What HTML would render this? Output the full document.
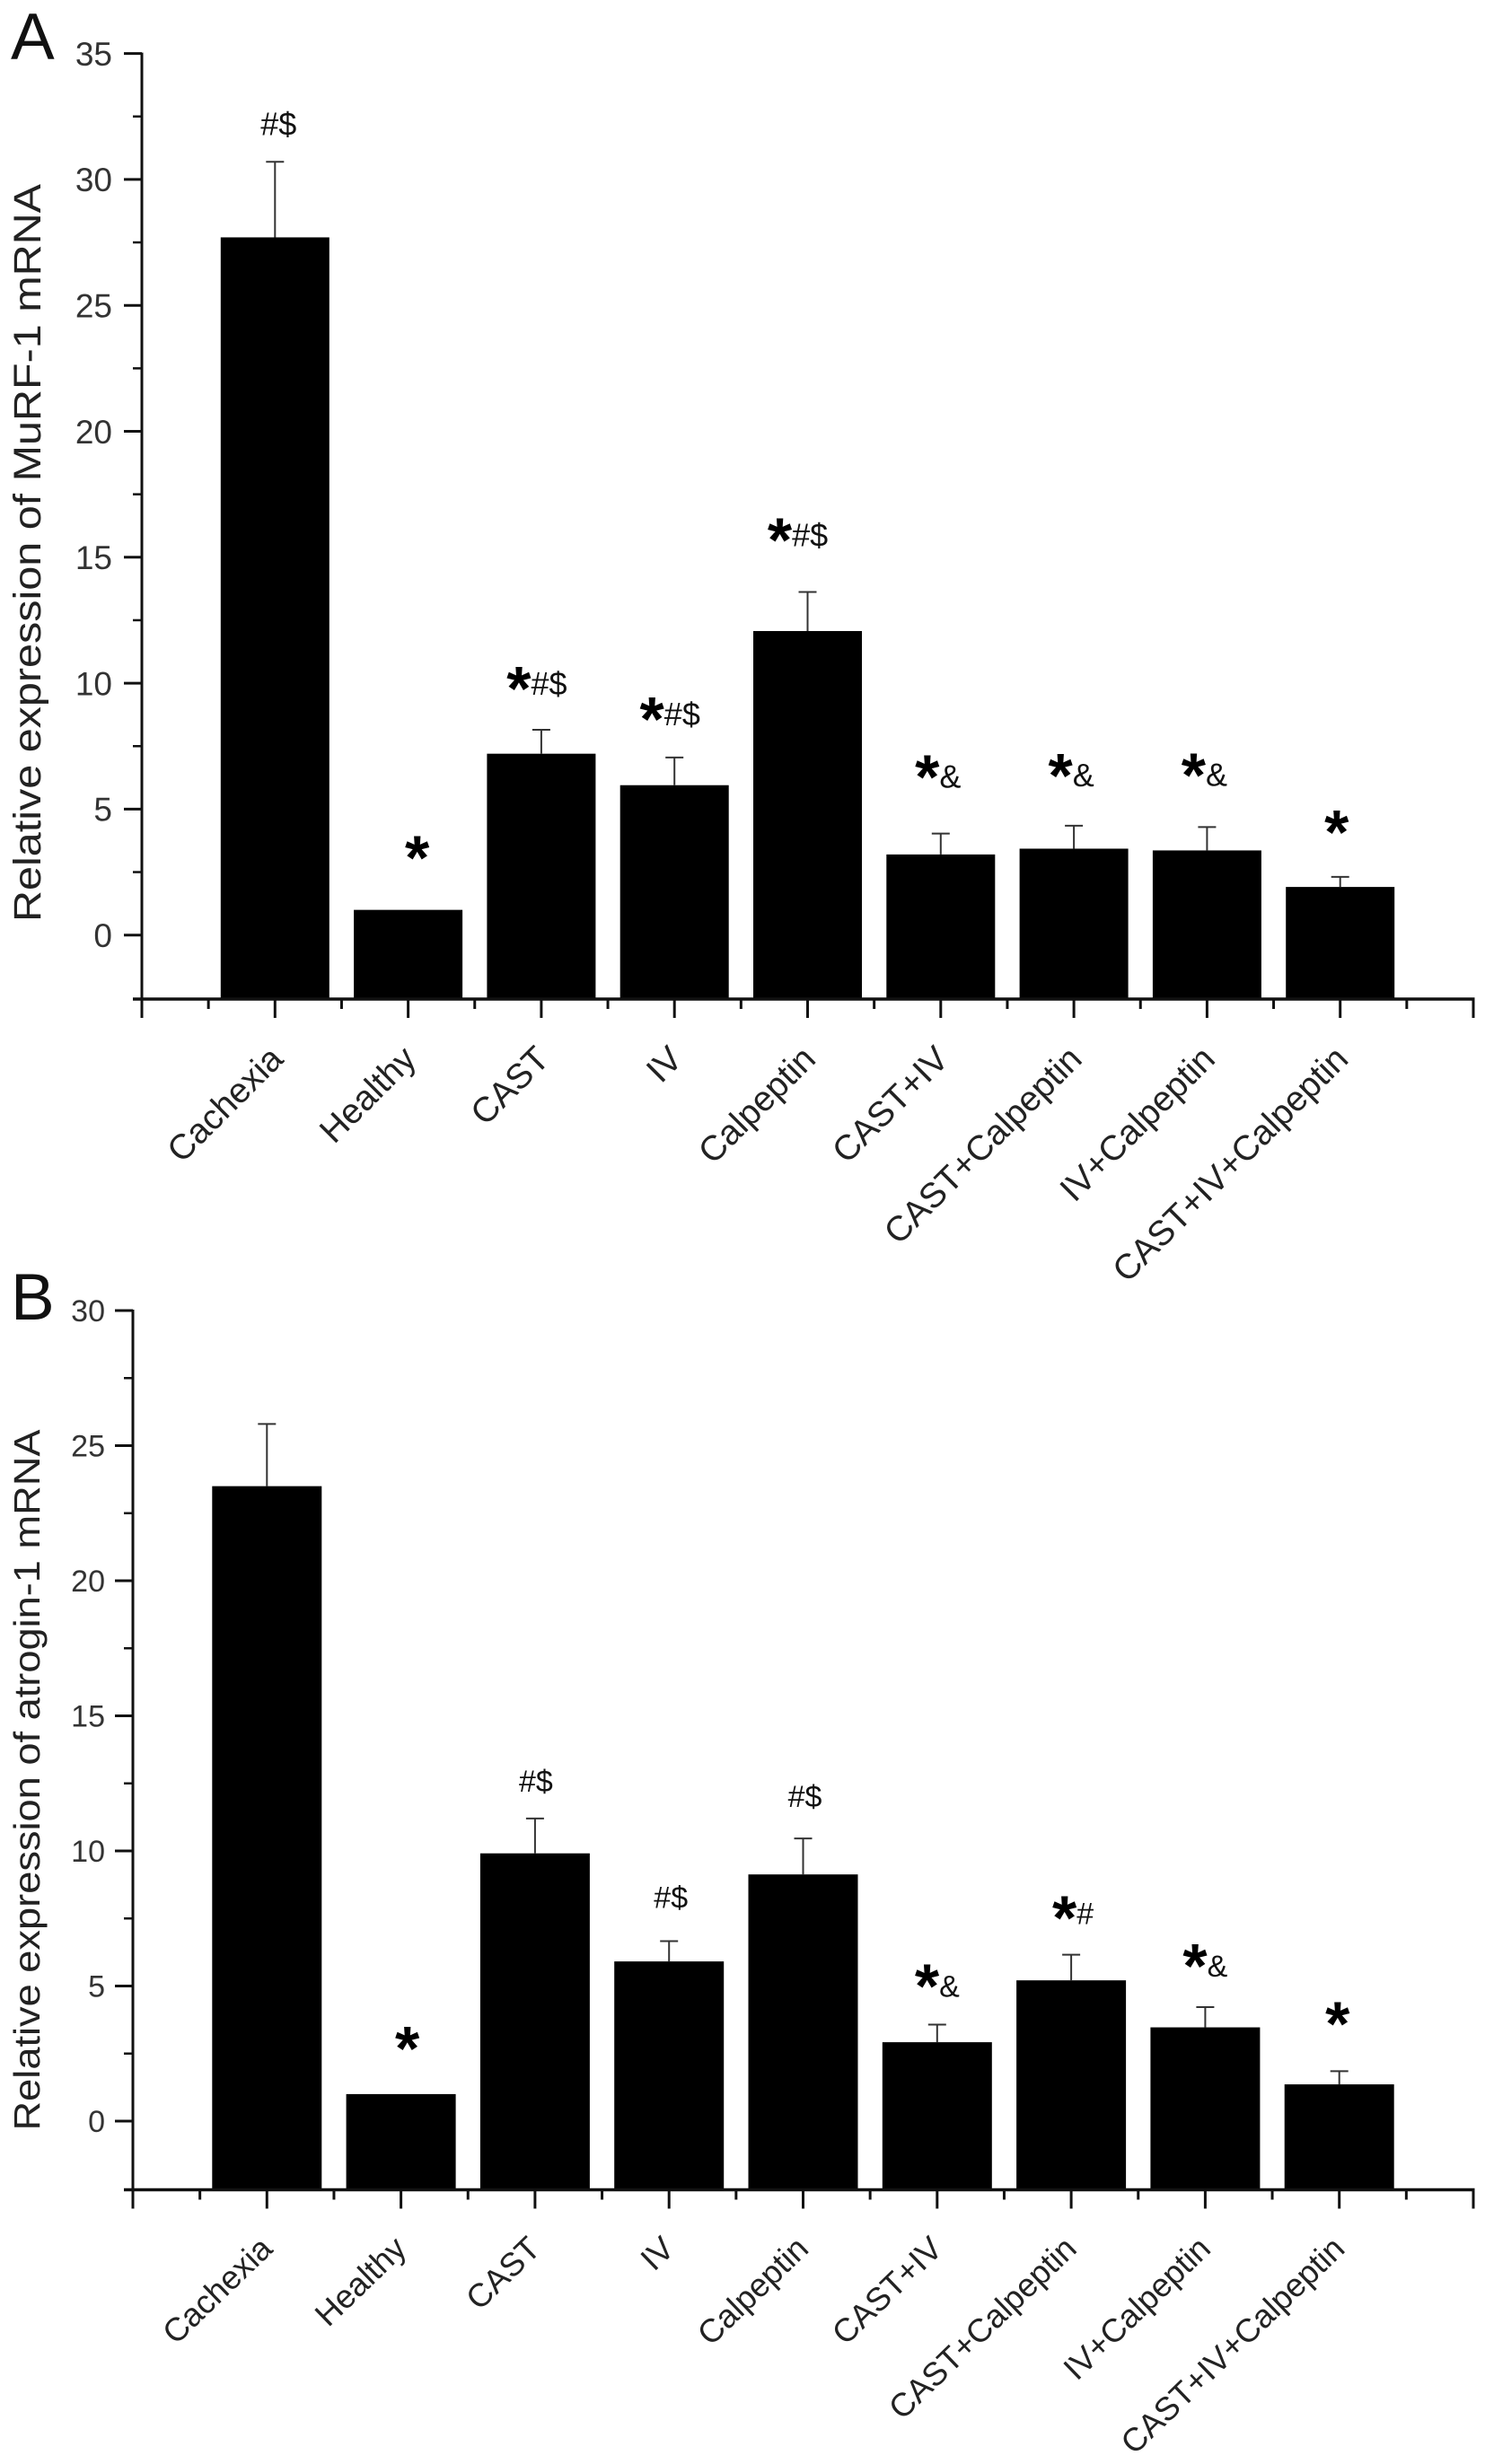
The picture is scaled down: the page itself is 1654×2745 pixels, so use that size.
<!DOCTYPE html>
<html lang="en">
<head>
<meta charset="utf-8">
<title>Relative expression of MuRF-1 and atrogin-1 mRNA</title>
<style>
  html, body { margin: 0; padding: 0; background: #fff; }
  svg { display: block; font-family: "Liberation Sans", Arial, sans-serif; }
</style>
</head>
<body>
<svg id="figure" width="1654" height="2745" viewBox="0 0 1654 2745">
  <rect width="1654" height="2745" fill="#fff"/>
  <g id="panel-a"></g>
  <g id="panel-b"></g>
</svg>
<script>
const categories = ["Cachexia", "Healthy", "CAST", "IV", "Calpeptin", "CAST+IV", "CAST+Calpeptin", "IV+Calpeptin", "CAST+IV+Calpeptin"];

const murfValues = [27.7, 1.0, 7.2, 5.95, 12.07, 3.2, 3.43, 3.36, 1.91];
const murfErrors = [3.0, 0, 0.95, 1.1, 1.55, 0.83, 0.91, 0.93, 0.4];
const murfAnnotations = ["#$", "*", "*#$", "*#$", "*#$", "*&", "*&", "*&", "*"];
const murfTicks = [0, 5, 10, 15, 20, 25, 30, 35];
const murfTitle = "Relative expression of MuRF-1 mRNA";

const atroginValues = [23.5, 1.0, 9.91, 5.91, 9.13, 2.92, 5.21, 3.47, 1.36];
const atroginErrors = [2.3, 0, 1.29, 0.75, 1.33, 0.65, 0.95, 0.75, 0.49];
const atroginAnnotations = ["", "*", "#$", "#$", "#$", "*&", "*#", "*&", "*"];
const atroginTicks = [0, 5, 10, 15, 20, 25, 30];
const atroginTitle = "Relative expression of atrogin-1 mRNA";

const svgRoot = document.getElementById("figure");

function make(parent, tag, attrs, text) {
  const el = document.createElementNS(svgRoot.namespaceURI, tag);
  for (const key in attrs) el.setAttribute(key, attrs[key]);
  if (text !== undefined) el.textContent = text;
  parent.appendChild(el);
  return el;
}

function drawPanel(group, cfg) {
  const yScale = v => cfg.zeroY - v * cfg.unitY;
  const xScale = u => cfg.axisX + u * cfg.stepX;
  const topTick = cfg.ticks[cfg.ticks.length - 1];
  const axisColor = "#111";

  const letter = make(group, "text", { x: 12, y: cfg.letterY, "font-size": 73, fill: "#111" }, cfg.letter);
  
  

  const title = make(group, "text", {
    transform: "translate(" + cfg.titleX + "," + cfg.titleCenter + ") rotate(-90)",
    "text-anchor": "middle", "font-size": cfg.titleSize, fill: "#222",
    textLength: cfg.titleLength, lengthAdjust: "spacingAndGlyphs"
  }, cfg.title);
  
  

  cfg.values.forEach((value, i) => {
    const cx = xScale(i + 1);
    const bar = make(group, "rect", {
      x: cx - cfg.barWidth / 2, y: yScale(value),
      width: cfg.barWidth, height: cfg.axisY - yScale(value), fill: "#000"
    });
    
    

    const errorTop = yScale(value + cfg.errors[i]);
    if (cfg.errors[i] > 0) {
      const stem = make(group, "line", { x1: cx, x2: cx, y1: yScale(value), y2: errorTop, stroke: "#333", "stroke-width": 2 });
      
      
      const cap = make(group, "line", { x1: cx - 10, x2: cx + 10, y1: errorTop, y2: errorTop, stroke: "#333", "stroke-width": 2 });
      
      
    }

    const note = cfg.annotations[i];
    if (note) {
      const hasStar = note[0] === "*";
      const symbols = hasStar ? note.slice(1) : note;
      const nudge = cfg.markerNudge[categories[i]] || { dx: 0, dy: 0 };
      const baseline = errorTop - (hasStar ? cfg.starGap : cfg.hashGap) + nudge.dy;
      const label = make(group, "text", {
        x: cx + (hasStar ? 3 : 4) + nudge.dx,
        y: baseline,
        "text-anchor": "middle", fill: "#111"
      });
      
      
      if (hasStar) {
        make(label, "tspan", { "font-size": 70, "font-weight": "bold", fill: "#000" }, "*");
      }
      if (symbols) {
        make(label, "tspan", hasStar
          ? { "font-size": cfg.symbolSize, dy: symbols === "&" ? -12 : -17 }
          : { "font-size": cfg.symbolSize }, symbols);
      }
    }
  });

  const yAxis = make(group, "line", { x1: cfg.axisX, x2: cfg.axisX, y1: yScale(topTick) - 1, y2: cfg.axisY, stroke: axisColor, "stroke-width": 3 });
  
  

  const xAxis = make(group, "line", { x1: cfg.axisX - 10, x2: xScale(10) + 1.5, y1: cfg.axisY, y2: cfg.axisY, stroke: axisColor, "stroke-width": 3.5 });
  
  

  cfg.ticks.forEach(t => {
    const tick = make(group, "line", { x1: cfg.axisX - 20, x2: cfg.axisX, y1: yScale(t), y2: yScale(t), stroke: axisColor, "stroke-width": 3 });
    
    
    const tickLabel = make(group, "text", { x: cfg.axisX - cfg.tickGap, y: yScale(t) + cfg.tickSize * 0.36, "text-anchor": "end", "font-size": cfg.tickSize, fill: "#333" }, String(t));
    
    
    if (t < topTick) {
      const minor = make(group, "line", { x1: cfg.axisX - 10, x2: cfg.axisX, y1: yScale(t + 2.5), y2: yScale(t + 2.5), stroke: axisColor, "stroke-width": 2.5 });
      
      
    }
  });

  for (let k = 0; k <= 10; k++) {
    const major = make(group, "line", { x1: xScale(k), x2: xScale(k), y1: cfg.axisY, y2: cfg.axisY + 21, stroke: axisColor, "stroke-width": 3 });
    
    
    if (k < 10) {
      const minorX = make(group, "line", { x1: xScale(k + 0.5), x2: xScale(k + 0.5), y1: cfg.axisY, y2: cfg.axisY + 11, stroke: axisColor, "stroke-width": 3 });
      
      
    }
  }

  categories.forEach((name, i) => {
    const px = xScale(i + 1) + cfg.labelDx;
    const py = cfg.axisY + cfg.labelDy;
    const catLabel = make(group, "text", {
      transform: "translate(" + px + "," + py + ") rotate(" + cfg.labelAngle + ")",
      "text-anchor": "end", "font-size": cfg.labelSize, fill: "#222"
    }, name);
    
    
  });
}

drawPanel(document.getElementById("panel-a"), {
  letter: "A", letterY: 66, title: murfTitle, titleX: 45, titleCenter: 616, titleLength: 822, titleSize: 43,
  values: murfValues, errors: murfErrors, annotations: murfAnnotations, ticks: murfTicks,
  zeroY: 1041.7, unitY: 28.06, axisX: 158, axisY: 1113, stepX: 148.3, barWidth: 121,
  tickSize: 37, tickGap: 33, labelSize: 39, labelAngle: -45, labelDx: 11, labelDy: 69,
  symbolSize: 36, starGap: 29, hashGap: 30,
  markerNudge: {
    "Healthy": { dx: 7, dy: -5 },
    "CAST": { dx: -8, dy: 7 },
    "IV": { dx: -8, dy: 10 },
    "Calpeptin": { dx: -14, dy: -5 },
    "CAST+IV": { dx: -6, dy: -10 },
    "CAST+Calpeptin": { dx: -6, dy: -3 },
    "IV+Calpeptin": { dx: -6, dy: -5 },
    "CAST+IV+Calpeptin": { dx: -7, dy: 3 }
  }
});

drawPanel(document.getElementById("panel-b"), {
  letter: "B", letterY: 1470, title: atroginTitle, titleX: 44, titleCenter: 1983, titleLength: 781, titleSize: 41,
  values: atroginValues, errors: atroginErrors, annotations: atroginAnnotations, ticks: atroginTicks,
  zeroY: 2363, unitY: 30.1, axisX: 148, axisY: 2439.5, stepX: 149.3, barWidth: 122,
  tickSize: 34, tickGap: 31, labelSize: 36.5, labelAngle: -44, labelDx: 8, labelDy: 68,
  symbolSize: 34, starGap: 29, hashGap: 28,
  markerNudge: {
    "Healthy": { dx: 4, dy: 2 },
    "CAST": { dx: -3, dy: -2 },
    "IV": { dx: -2, dy: -9 },
    "Calpeptin": { dx: -2, dy: -7 },
    "CAST+IV": { dx: -3, dy: 10 },
    "CAST+Calpeptin": { dx: -1, dy: 12 },
    "IV+Calpeptin": { dx: -3, dy: 7 },
    "CAST+IV+Calpeptin": { dx: -5, dy: 0 }
  }
});
</script>
</body>
</html>
